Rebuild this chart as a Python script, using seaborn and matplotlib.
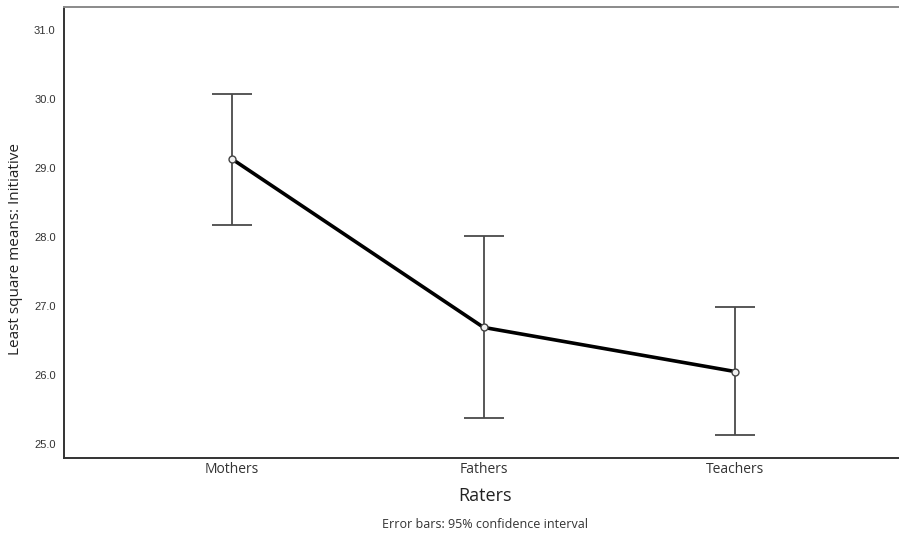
import matplotlib
matplotlib.use("Agg")
import matplotlib.pyplot as plt
import seaborn as sns
import pandas as pd

raters = ["Mothers", "Fathers", "Teachers"]
means = [29.13, 26.69, 26.05]
ci_upper = [30.07, 28.01, 26.98]
ci_lower = [28.18, 25.37, 25.13]
yticks = [25.0, 26.0, 27.0, 28.0, 29.0, 30.0, 31.0]

df = pd.DataFrame({"Raters": raters, "mean": means})

sns.set_style("white")
fig = plt.figure(figsize=(8.99, 5.34), dpi=100)
ax = fig.add_axes([64/899, 1-458/534, 1-64/899, (458-7)/534])

pos = list(range(len(raters)))
yerr = [[m - l for m, l in zip(means, ci_lower)], [u - m for m, u in zip(means, ci_upper)]]
ax.errorbar(pos, means, yerr=yerr, fmt="none", ecolor="#4a4a4a", elinewidth=1.3,
            capsize=14.5, capthick=1.3, zorder=2)

sns.pointplot(data=df, x="Raters", y="mean", errorbar=None, color="black",
              markers="o", ax=ax, linewidth=2.6, markersize=5,
              markerfacecolor="#f0f0f0", markeredgecolor="#444444",
              markeredgewidth=1.0, zorder=3)

ax.set_xlim(-0.668, 2.652)
ax.set_ylim(24.797, 31.333)
ax.set_yticks(yticks)
ax.set_yticklabels([f"{v:.1f}" for v in yticks], fontsize=8, family="Liberation Sans", color="#333333")
ax.set_xticks(pos)
ax.set_xticklabels(raters, fontsize=10, family="Open Sans", color="#333333")
ax.tick_params(axis="both", length=0)
ax.tick_params(axis="y", pad=6)
ax.tick_params(axis="x", pad=3)

ax.set_xlabel("")
ax.set_ylabel("Least square means: Initiative", fontsize=11, family="Open Sans",
              color="#222222")
ax.yaxis.set_label_coords((23 - 64) / 835, (458 - 249) / 451)

for s in ["left", "bottom"]:
    ax.spines[s].set_color("#333333")
    ax.spines[s].set_linewidth(1.4)
ax.spines["top"].set_color("#8a8a8a")
ax.spines["top"].set_linewidth(1.4)
ax.spines["right"].set_visible(False)

fig.text(485/899, 1-496/534, "Raters", ha="center", va="center", fontsize=13,
         family="Open Sans", color="#222222")
fig.text(485/899, 1-524/534, "Error bars: 95% confidence interval", ha="center",
         va="center", fontsize=9, family="Open Sans", color="#333333")

fig.savefig("out.png", dpi=100)
